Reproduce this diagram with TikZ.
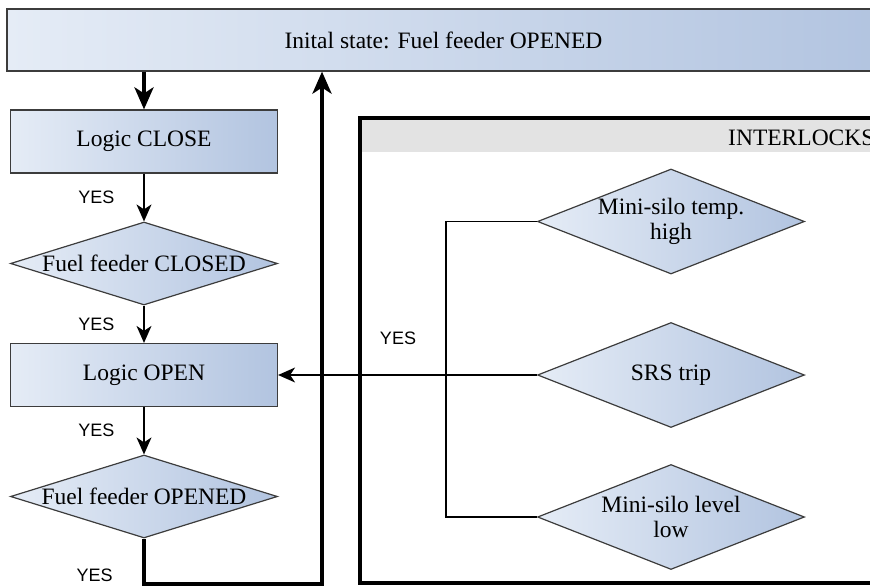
\documentclass[tikz,border=0pt]{standalone}
\usepackage{fontspec}
\setmainfont{Liberation Serif}
\newfontfamily\yesfont{Liberation Sans}
\usepackage{tikz}
\usetikzlibrary{shapes.geometric,arrows.meta,positioning}

\definecolor{shadeL}{RGB}{229,236,246}
\definecolor{shadeR}{RGB}{178,196,224}
\definecolor{headgray}{RGB}{227,227,227}
\definecolor{edgegray}{RGB}{60,60,60}

\tikzset{
  boxline/.style={draw=edgegray, line width=1.2pt},
  blueshade/.style={left color=shadeL, right color=shadeR},
  bigtext/.style={font=\fontsize{23.5}{25}\selectfont},
  process/.style={rectangle, boxline, blueshade, bigtext, inner sep=0pt,
    minimum width=267pt, minimum height=63pt},
  decision/.style={diamond, boxline, blueshade, inner sep=0pt,
    minimum width=267pt, minimum height=83pt},
  dtext/.style={bigtext, align=center, inner sep=0pt},
  frame/.style={rectangle, draw=black, line width=4.5pt, outer sep=0pt},
  yes/.style={font=\yesfont\fontsize{18}{20}\selectfont, inner sep=0pt},
  flow/.style={-{Stealth[length=17pt,width=15pt,inset=5pt]}, line width=1.3pt},
  thickflow/.style={-{Stealth[length=22pt,width=19pt,inset=6pt]}, line width=4.5pt},
  link/.style={line width=1.3pt}
}

\begin{document}
\begin{tikzpicture}[x=1pt,y=-1pt]
  \clip (0,0) rectangle (870,586);
  %% main sequence
  \node[process, minimum width=873pt, minimum height=62pt] (init) at (443.5,40) {Inital state: Fuel feeder OPENED};
  \node[process] (close) at (144,141.5) {Logic CLOSE};
  \node[decision, label={[dtext]center:Fuel feeder CLOSED}] (closed) at (144,263.5) {};
  \node[process] (open) at (144,375) {Logic OPEN};
  \node[decision, label={[dtext]center:Fuel feeder OPENED}] (opened) at (144,496.5) {};

  %% interlocks frame
  \node[frame, anchor=north west, minimum width=525pt, minimum height=465pt,
    path picture={\fill[headgray] (path picture bounding box.north west) rectangle ([yshift=-34pt]path picture bounding box.north east);}]
    (ilk) at (360,118) {};
  \node[bigtext, anchor=base west, inner sep=0pt] (ilktitle) at (728,145) {INTERLOCKS};
  \node[decision, minimum height=105pt, label={[dtext]center:{Mini-silo temp.\\high}}] (temp) at (671,221.5) {};
  \node[decision, minimum height=105pt, label={[dtext]center:SRS trip}] (srs) at (671,375) {};
  \node[decision, minimum height=105pt, label={[dtext]center:{Mini-silo level\\low}}] (level) at (671,517) {};
  \coordinate (bus) at (446,375);
  \coordinate (loop) at (322,584);

  % connectors
  \draw[thickflow] (init.south -| close.north) -- (close.north);
  \draw[flow] (close) -- node[yes, left=29pt] (yes1) {YES} (closed);
  \draw[flow] (closed) -- node[yes, left=29pt] (yes2) {YES} (open);
  \draw[flow] (open) -- node[yes, left=29pt] (yes3) {YES} (opened);
  \draw[thickflow] (opened.south) |- node[yes, pos=0.4, left=29pt] (yes4) {YES} (loop) -- (loop |- init.south);
  \draw[link] (temp.west) -| (bus) |- (level.west);
  \draw[flow] (srs.west) -- (open.east);
  \node[yes] (yes5) at (398,338) {YES};
\end{tikzpicture}
\end{document}
